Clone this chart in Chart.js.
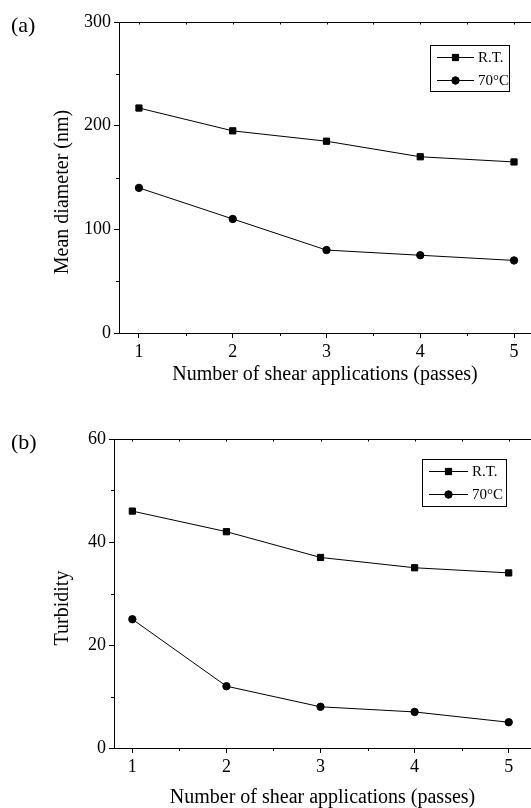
<!DOCTYPE html>
<html lang="en">
<head>
    <meta charset="UTF-8">
    <title>Mean diameter and turbidity vs. shear passes</title>
    <script src="https://cdn.jsdelivr.net/npm/chart.js"></script>
    <style>
        html, body { margin: 0; padding: 0; background: #fff; overflow: hidden; }
        body { width: 531px; height: 808px; position: relative; }
        canvas { position: absolute; left: 0; }
        #chartA { top: 0; }
        #chartB { top: 400px; }
    </style>
</head>
<body>
    <canvas id="chartA" width="531" height="400"></canvas>
    <canvas id="chartB" width="531" height="408"></canvas>

    <script>
        // data
        const passes = [1, 2, 3, 4, 5];
        const seriesLabels = ["R.T.", "70°C"];
        const diameterRT = [217, 195, 185, 170, 165];
        const diameter70 = [140, 110, 80, 75, 70];
        const turbidityRT = [46, 42, 37, 35, 34];
        const turbidity70 = [25, 12, 8, 7, 5];
        const xTicks = [1, 2, 3, 4, 5];
        const xMinorTicks = [1.5, 2.5, 3.5, 4.5];
        const diameterMinor = [50, 150, 250];
        const turbidityMinor = [10, 30, 50];

        const SERIF = "'Liberation Serif', 'Times New Roman', serif";

        function toPoints(ys) {
            return passes.map((x, i) => ({ x: x, y: ys[i] }));
        }

        function makeDatasets(rt, hot) {
            return [
                { label: seriesLabels[0], data: toPoints(rt), pointStyle: "rect", pointRadius: 4.4,
                  borderColor: "#000", backgroundColor: "#000", borderWidth: 1, pointBorderWidth: 1 },
                { label: seriesLabels[1], data: toPoints(hot), pointStyle: "circle", pointRadius: 3.7,
                  borderColor: "#000", backgroundColor: "#000", borderWidth: 1, pointBorderWidth: 1 }
            ];
        }

        // frame extras, minor ticks, panel label, y title and boxed legend
        const decor = {
            id: "decor",
            afterDraw(chart, args, o) {
                const ctx = chart.ctx;
                const a = chart.chartArea;
                const xs = chart.scales.x, ys = chart.scales.y;
                ctx.save();
                ctx.strokeStyle = "#000";
                ctx.lineWidth = 1;
                ctx.beginPath();
                // top border
                ctx.moveTo(a.left, a.top + 0.5);
                ctx.lineTo(a.right, a.top + 0.5);
                // minor ticks on bottom axis
                xMinorTicks.forEach(v => {
                    const px = Math.round(xs.getPixelForValue(v)) + 0.5;
                    ctx.moveTo(px, a.bottom); ctx.lineTo(px, a.bottom + 3);
                });
                // small inward ticks on top border
                xTicks.concat(xMinorTicks).forEach(v => {
                    const px = Math.round(xs.getPixelForValue(v)) + 0.5;
                    ctx.moveTo(px, a.top); ctx.lineTo(px, a.top + 2.5);
                });
                // minor ticks on left axis
                o.yMinor.forEach(v => {
                    const py = Math.round(ys.getPixelForValue(v)) + 0.5;
                    ctx.moveTo(a.left + 1, py); ctx.lineTo(a.left - 3, py);
                });
                ctx.stroke();

                ctx.fillStyle = "#000";
                // panel label
                ctx.font = "22px " + SERIF;
                ctx.textAlign = "left";
                ctx.textBaseline = "middle";
                ctx.fillText(o.panel, 11, o.panelY);

                // y axis title
                ctx.save();
                ctx.translate(o.yTitleX, o.yTitleY);
                ctx.rotate(-Math.PI / 2);
                ctx.font = "20px " + SERIF;
                ctx.textAlign = "center";
                ctx.fillText(o.yTitle, 0, 0);
                ctx.restore();

                // legend box
                const L = o.legend;
                ctx.strokeRect(L.x + 0.5, L.y + 0.5, L.w, L.h);
                ctx.font = "15px " + SERIF;
                ctx.textAlign = "left";
                chart.data.datasets.forEach((ds, i) => {
                    const ry = L.y + L.row0 + i * L.rowGap;
                    ctx.beginPath();
                    ctx.moveTo(L.x + 7, ry + 0.5);
                    ctx.lineTo(L.x + 7 + L.lineW, ry + 0.5);
                    ctx.stroke();
                    Chart.helpers.drawPoint(ctx, {
                        pointStyle: ds.pointStyle, radius: ds.pointRadius, borderWidth: 1
                    }, L.x + 7 + L.lineW / 2, ry + 0.5);
                    ctx.fill();
                    ctx.fillText(ds.label, L.x + 11 + L.lineW, ry + 1);
                });
                ctx.restore();
            }
        };

        function makeChart(id, datasets, cfg) {
            return new Chart(document.getElementById(id), {
                type: "line",
                data: { datasets: datasets },
                plugins: [decor],
                options: {
                    responsive: false,
                    animation: false,
                    devicePixelRatio: 1,
                    layout: { autoPadding: false, padding: { top: cfg.top, left: 0, right: 0, bottom: 0 } },
                    plugins: {
                        legend: { display: false },
                        tooltip: { enabled: false },
                        decor: cfg.decor
                    },
                    scales: {
                        x: {
                            type: "linear",
                            min: cfg.xMin, max: cfg.xMax,
                            afterBuildTicks: s => { s.ticks = xTicks.map(v => ({ value: v })); },
                            afterFit: s => { s.height = cfg.xHeight; s.paddingLeft = 0; s.paddingRight = 0; },
                            grid: { drawOnChartArea: false, drawTicks: true, tickLength: 5, color: "#000" },
                            border: { display: true, color: "#000", width: 1 },
                            ticks: { color: "#000", padding: 3, maxRotation: 0, autoSkip: false,
                                     font: { family: SERIF, size: 18 } },
                            title: { display: true, text: "Number of shear applications (passes)", color: "#000",
                                     font: { family: SERIF, size: 20, lineHeight: 1 },
                                     padding: { top: 0, bottom: cfg.xTitlePad } }
                        },
                        y: {
                            min: cfg.yMin, max: cfg.yMax,
                            ticks: { stepSize: cfg.yStep, color: "#000", padding: 3,
                                     font: { family: SERIF, size: 18 } },
                            afterFit: s => { s.width = cfg.yWidth; },
                            grid: { drawOnChartArea: false, drawTicks: true, tickLength: 5, color: "#000" },
                            border: { display: true, color: "#000", width: 1 }
                        }
                    }
                }
            });
        }

        makeChart("chartA", makeDatasets(diameterRT, diameter70), {
            top: 22, xHeight: 67, yWidth: 119,
            xMin: 0.787, xMax: 5.181, yMin: 0, yMax: 300, yStep: 100, xTitlePad: 15,
            decor: {
                panel: "(a)", panelY: 26, yMinor: diameterMinor,
                yTitle: "Mean diameter (nm)", yTitleX: 63, yTitleY: 192,
                legend: { x: 430, y: 45, w: 79, h: 46, row0: 12, rowGap: 23, lineW: 37 }
            }
        });

        makeChart("chartB", makeDatasets(turbidityRT, turbidity70), {
            top: 39, xHeight: 60, yWidth: 114,
            xMin: 0.805, xMax: 5.237, yMin: 0, yMax: 60, yStep: 20, xTitlePad: 0.5,
            decor: {
                panel: "(b)", panelY: 43, yMinor: turbidityMinor,
                yTitle: "Turbidity", yTitleX: 63, yTitleY: 208,
                legend: { x: 422, y: 59, w: 84, h: 47, row0: 12, rowGap: 23, lineW: 39 }
            }
        });
    </script>
</body>
</html>
